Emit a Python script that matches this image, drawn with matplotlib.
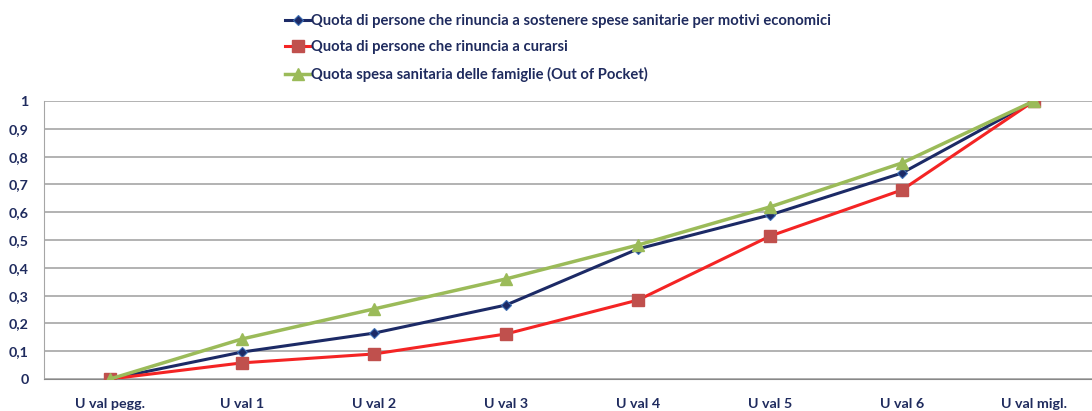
import matplotlib.pyplot as plt
from matplotlib.ticker import FuncFormatter

categories = ["U val pegg.", "U val 1", "U val 2", "U val 3", "U val 4", "U val 5", "U val 6", "U val migl."]
spese_economiche = [0, 0.097, 0.165, 0.266, 0.468, 0.590, 0.741, 1]
rinuncia_curarsi = [0, 0.058, 0.090, 0.162, 0.284, 0.514, 0.680, 1]
out_of_pocket = [0, 0.144, 0.252, 0.360, 0.482, 0.619, 0.777, 1]
labels = [
    "Quota di persone che rinuncia a sostenere spese sanitarie per motivi economici",
    "Quota di persone che rinuncia a curarsi",
    "Quota spesa sanitaria delle famiglie (Out of Pocket)",
]

text_col = "#1f2b5e"
plt.rcParams["font.family"] = ["Lato", "DejaVu Sans"]
plt.rcParams["font.weight"] = "bold"

fig = plt.figure(figsize=(10.92, 4.11), dpi=100)
ax = fig.add_axes([44 / 1092, 1 - 379 / 411, 1056 / 1092, 278 / 411])

x = range(len(categories))
ax.plot(x, spese_economiche, color="#1c2a66", lw=2.2, marker="D", ms=5,
        mfc="#1c2a66", mec="#3d6fb5", mew=0.8, label=labels[0], zorder=3)
ax.plot(x, rinuncia_curarsi, color="#f42424", lw=2.2, marker="s", ms=8,
        mfc="#c0504d", mec="#c0504d", label=labels[1], zorder=3)
ax.plot(x, out_of_pocket, color="#9bbb59", lw=2.5, marker="^", ms=9,
        mfc="#9bbb59", mec="#9bbb59", label=labels[2], zorder=4)

ax.set_xlim(-0.5, len(categories) - 0.5)
ax.set_ylim(0, 1)
ax.set_yticks([i / 10 for i in range(11)])
ax.yaxis.set_major_formatter(FuncFormatter(lambda v, p: f"{v:g}".replace(".", ",")))
ax.set_xticks(list(x))
ax.set_xticklabels(categories)
ax.grid(axis="y", color="#a6a6a6", lw=1.2)
ax.set_axisbelow(True)
for s in ["top", "right"]:
    ax.spines[s].set_visible(False)
ax.spines["left"].set_color("#a6a6a6")
ax.spines["bottom"].set_color("#888888")
ax.tick_params(axis="both", length=0, colors=text_col, labelsize=10.3)
ax.tick_params(axis="y", pad=11)
ax.tick_params(axis="x", pad=14)

leg = fig.legend(loc="upper left", bbox_to_anchor=(272 / 1092, 0.998), frameon=False,
                 handlelength=1.7, handletextpad=0.05, labelspacing=0.84,
                 prop={"size": 10.6, "weight": "bold"})
for t in leg.get_texts():
    t.set_color(text_col)

fig.savefig("out.png", dpi=100)
